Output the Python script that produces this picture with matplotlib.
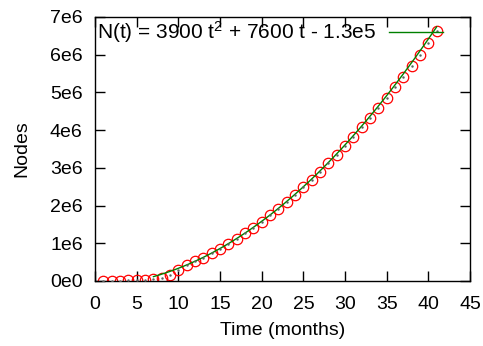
import matplotlib
matplotlib.use("Agg")
import matplotlib.pyplot as plt
import numpy as np

plt.rcParams['font.family'] = ['Liberation Sans', 'DejaVu Sans']
plt.rcParams['mathtext.fontset'] = 'custom'
plt.rcParams['mathtext.rm'] = 'Liberation Sans'
plt.rcParams['mathtext.default'] = 'regular'

# measured node counts per month
months = list(range(1, 42))
nodes = [0.005e6, 0.008e6, 0.010e6, 0.014e6, 0.020e6, 0.030e6, 0.045e6, 0.08e6,
         0.17e6, 0.29e6, 0.42e6, 0.52e6, 0.62e6, 0.73e6, 0.85e6, 0.98e6,
         1.12e6, 1.26e6, 1.41e6, 1.57e6, 1.74e6, 1.92e6, 2.10e6, 2.29e6,
         2.49e6, 2.69e6, 2.90e6, 3.12e6, 3.35e6, 3.58e6, 3.82e6, 4.07e6,
         4.33e6, 4.59e6, 4.86e6, 5.13e6, 5.41e6, 5.70e6, 6.00e6, 6.30e6, 6.62e6]

# quadratic fit shown in the key
fit_a, fit_b, fit_c = 3900, 7600, -1.3e5
fit_start, fit_end = 7, 41

xticks = list(range(0, 50, 5))
yticks = [0, 1e6, 2e6, 3e6, 4e6, 5e6, 6e6, 7e6]
ytick_labels = ['0e0', '1e6', '2e6', '3e6', '4e6', '5e6', '6e6', '7e6']

fs = 14

fig = plt.figure(figsize=(4.83, 3.46), dpi=100)
ax = fig.add_axes([0.197, 0.188, 0.776, 0.763])

ax.plot(months, nodes, 'o', mfc='none', mec='red', ms=7.5, mew=0.9, zorder=2)
ax.plot(months, nodes, '.', color='#606060', ms=1.5, zorder=4)

tf = np.linspace(fit_start, fit_end, 200)
ax.plot(tf, fit_a * tf**2 + fit_b * tf + fit_c, color='green', lw=1.0, zorder=3,
        label='N(t) = 3900 t$^{2}$ + 7600 t - 1.3e5')

ax.set_xlim(0, 45)
ax.set_ylim(0, 7e6)
ax.set_xticks(xticks)
ax.set_yticks(yticks)
ax.set_yticklabels(ytick_labels)
ax.tick_params(direction='in', length=7, width=1, top=True, right=True,
               labelsize=fs)
ax.tick_params(axis='x', pad=11)
ax.tick_params(axis='y', pad=9)
for s in ax.spines.values():
    s.set_linewidth(1.0)

ax.set_xlabel('Time (months)', fontsize=fs, labelpad=6)
ax.set_ylabel('Nodes', fontsize=fs, labelpad=14)

ax.legend(loc='upper right', frameon=False, markerfirst=False, fontsize=15,
          handlelength=2.6, handletextpad=0.58, borderaxespad=0, borderpad=0,
          bbox_to_anchor=(0.928, 0.99))

fig.savefig('out.png', dpi=100)
